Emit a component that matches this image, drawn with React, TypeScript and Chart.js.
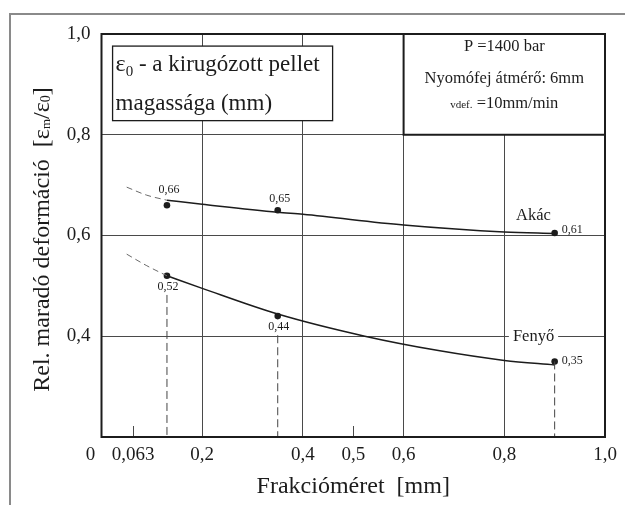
import { useEffect, useRef } from 'react';
import { Chart, registerables } from 'chart.js';

Chart.register(...registerables);

// ---- data ----
const xTickValues = [0, 0.063, 0.2, 0.4, 0.5, 0.6, 0.8, 1.0];
const xTickLabels = ['0', '0,063', '0,2', '0,4', '0,5', '0,6', '0,8', '1,0'];
const xGridFull = [0.2, 0.4, 0.6, 0.8];
const xShortTicks = [0.063, 0.5];
const yTickValues = [0.2, 0.4, 0.6, 0.8, 1.0];
const yTickLabels = ['', '0,4', '0,6', '0,8', '1,0'];

const fractions = [0.13, 0.35, 0.9];
const akacValues = [0.66, 0.65, 0.605];
const akacLabels = ['0,66', '0,65', '0,61'];
const fenyoValues = [0.52, 0.44, 0.35];
const fenyoLabels = ['0,52', '0,44', '0,35'];

const akacFitX = [0.13, 0.2, 0.35, 0.4, 0.6, 0.8, 0.9];
const akacFitY = [0.67, 0.662, 0.646, 0.642, 0.621, 0.607, 0.604];
const akacExtX = [0.05, 0.09, 0.13];
const akacExtY = [0.696, 0.68, 0.67];

const fenyoFitX = [0.13, 0.2, 0.35, 0.523, 0.672, 0.8, 0.9];
const fenyoFitY = [0.52, 0.495, 0.444, 0.4, 0.371, 0.352, 0.343];
const fenyoExtX = [0.05, 0.09, 0.13];
const fenyoExtY = [0.563, 0.54, 0.52];

const dropTops = [0.482, 0.402, 0.35];

const seriesNames = ['Akác', 'Fenyő'];
const xTitle = 'Frakcióméret  [mm]';
const noteLines = ['P =1400 bar', 'Nyomófej átmérő: 6mm'];

// ---- styles ----
const SERIF = '"Liberation Serif", "Times New Roman", serif';
const INK = '#1c1c1c';
const GRID = '#4a4a4a';
const TICK_SIZE = 19;
const TICK_PAD = 7;

type Part = { t: string; size: number; dy?: number };

function drawRich(ctx: CanvasRenderingContext2D, parts: Part[], x: number, y: number, align: 'left' | 'center' | 'right') {
  let total = 0;
  const widths = parts.map((p) => {
    ctx.font = `${p.size}px ${SERIF}`;
    const w = ctx.measureText(p.t).width;
    total += w;
    return w;
  });
  let cx = align === 'center' ? x - total / 2 : align === 'right' ? x - total : x;
  ctx.textAlign = 'left';
  ctx.textBaseline = 'alphabetic';
  parts.forEach((p, i) => {
    ctx.font = `${p.size}px ${SERIF}`;
    ctx.fillText(p.t, cx, y + (p.dy || 0));
    cx += widths[i];
  });
}

const xy = (xs: number[], ys: number[]) => xs.map((x, i) => ({ x, y: ys[i] }));

const decorPlugin = {
  id: 'decor',
  beforeDatasetsDraw(chart: any) {
    const { ctx, scales } = chart;
    const xs = scales.x;
    const ys = scales.y;
    const bottom = chart.chartArea.bottom;
    ctx.save();
    // short ticks
    ctx.strokeStyle = GRID;
    ctx.lineWidth = 1;
    xShortTicks.forEach((v) => {
      const px = Math.round(xs.getPixelForValue(v)) + 0.5;
      ctx.beginPath();
      ctx.moveTo(px, bottom);
      ctx.lineTo(px, bottom - 11);
      ctx.stroke();
    });
    // left text box
    const lx1 = xs.getPixelForValue(0.022);
    const lx2 = xs.getPixelForValue(0.459);
    const ly1 = ys.getPixelForValue(0.976);
    const ly2 = ys.getPixelForValue(0.828);
    ctx.fillStyle = '#fff';
    ctx.fillRect(lx1, ly1, lx2 - lx1, ly2 - ly1);
    ctx.strokeStyle = INK;
    ctx.lineWidth = 1.3;
    ctx.strokeRect(lx1, ly1, lx2 - lx1, ly2 - ly1);
    ctx.fillStyle = INK;
    drawRich(ctx, [
      { t: 'ε', size: 24 },
      { t: '0', size: 15, dy: 5 },
      { t: ' - a kirugózott pellet', size: 23 },
    ], lx1 + 3, ly1 + 25, 'left');
    drawRich(ctx, [{ t: 'magassága (mm)', size: 23 }], lx1 + 3, ly1 + 64, 'left');
    // right note box
    const rx1 = xs.getPixelForValue(0.6);
    const rx2 = xs.getPixelForValue(1.0);
    const ry1 = ys.getPixelForValue(1.0);
    const ry2 = ys.getPixelForValue(0.8);
    ctx.fillStyle = '#fff';
    ctx.fillRect(rx1, ry1, rx2 - rx1, ry2 - ry1);
    ctx.strokeStyle = INK;
    ctx.lineWidth = 2;
    ctx.strokeRect(rx1, ry1, rx2 - rx1, ry2 - ry1);
    ctx.fillStyle = INK;
    const rc = (rx1 + rx2) / 2;
    drawRich(ctx, [{ t: noteLines[0], size: 16.5 }], rc, ry1 + 17, 'center');
    drawRich(ctx, [{ t: noteLines[1], size: 16.5 }], rc, ry1 + 49, 'center');
    drawRich(ctx, [
      { t: 'vdef.', size: 11 },
      { t: ' =10mm/min', size: 16.5 },
    ], rc, ry1 + 74, 'center');
    ctx.restore();
  },
  afterDatasetsDraw(chart: any) {
    const { ctx, scales, chartArea } = chart;
    const xs = scales.x;
    const ys = scales.y;
    ctx.save();
    ctx.fillStyle = INK;
    ctx.font = `12px ${SERIF}`;
    // value labels
    fractions.forEach((f, i) => {
      const px = xs.getPixelForValue(f);
      const pa = ys.getPixelForValue(akacValues[i]);
      const pf = ys.getPixelForValue(fenyoValues[i]);
      if (i < 2) {
        ctx.textAlign = 'center';
        ctx.textBaseline = 'middle';
        ctx.fillText(akacLabels[i], px + 2, pa - (i === 0 ? 15 : 11));
        ctx.fillText(fenyoLabels[i], px + 1, pf + 11);
      } else {
        ctx.textAlign = 'left';
        ctx.textBaseline = 'middle';
        ctx.fillText(akacLabels[i], px + 7, pa - 3);
        ctx.fillText(fenyoLabels[i], px + 7, pf - 1);
      }
    });
    // series names
    ctx.font = `16.5px ${SERIF}`;
    ctx.textAlign = 'center';
    ctx.textBaseline = 'middle';
    const nx = xs.getPixelForValue(0.858);
    ctx.fillText(seriesNames[0], nx, ys.getPixelForValue(0.639));
    const fy = ys.getPixelForValue(0.4);
    const fw = ctx.measureText(seriesNames[1]).width;
    ctx.fillStyle = '#fff';
    ctx.fillRect(nx - fw / 2 - 4, fy - 3, fw + 8, 6);
    ctx.fillStyle = INK;
    ctx.fillText(seriesNames[1], nx, fy);
    // frame
    ctx.strokeStyle = INK;
    ctx.lineWidth = 2;
    ctx.strokeRect(chartArea.left, chartArea.top, chartArea.right - chartArea.left, chartArea.bottom - chartArea.top);
    ctx.restore();
  },
  afterDraw(chart: any) {
    const { ctx, scales, chartArea } = chart;
    const xs = scales.x;
    ctx.save();
    // outer gray frame
    ctx.strokeStyle = '#8a8a8a';
    ctx.lineWidth = 2;
    ctx.beginPath();
    ctx.moveTo(625, 14);
    ctx.lineTo(10, 14);
    ctx.lineTo(10, 505);
    ctx.stroke();
    ctx.fillStyle = INK;
    // origin label
    ctx.font = `${TICK_SIZE}px ${SERIF}`;
    ctx.textAlign = 'center';
    ctx.textBaseline = 'middle';
    ctx.fillText(xTickLabels[0], xs.getPixelForValue(0) - 11, chartArea.bottom + TICK_PAD + TICK_SIZE * 0.6);
    // x title
    drawRich(ctx, [{ t: xTitle, size: 24 }], (chartArea.left + chartArea.right) / 2, 493, 'center');
    // y title
    ctx.translate(41, (chartArea.top + chartArea.bottom) / 2 + 4);
    ctx.rotate(-Math.PI / 2);
    drawRich(ctx, [
      { t: 'Rel. maradó deformáció  [', size: 24 },
      { t: 'ε', size: 24 },
      { t: 'm', size: 13, dy: 1 },
      { t: '/', size: 24 },
      { t: 'ε', size: 24 },
      { t: '0', size: 14, dy: 1 },
      { t: ']', size: 24 },
    ], 0, 8, 'center');
    ctx.restore();
  },
};

export default function App() {
  const ref = useRef<HTMLCanvasElement>(null);
  useEffect(() => {
    if (!ref.current) return;
    const curve = (data: any[], dashed: boolean) => ({
      type: 'line' as const,
      data,
      borderColor: dashed ? '#6a6a6a' : INK,
      borderWidth: dashed ? 1 : 1.5,
      borderDash: dashed ? [6, 4] : [],
      pointRadius: 0,
      cubicInterpolationMode: 'monotone' as const,
      fill: false,
    });
    const drop = (i: number) => ({
      type: 'line' as const,
      data: [{ x: fractions[i], y: dropTops[i] }, { x: fractions[i], y: 0.2 }],
      borderColor: '#444',
      borderWidth: 1,
      borderDash: [8, 4],
      pointRadius: 0,
      fill: false,
    });
    const dots = (ys: number[]) => ({
      type: 'scatter' as const,
      data: fractions.map((x, i) => ({ x, y: ys[i] })),
      backgroundColor: INK,
      borderColor: INK,
      pointRadius: 3.3,
      borderWidth: 0,
    });
    const chart = new Chart(ref.current, {
      type: 'line',
      data: {
        datasets: [
          drop(0),
          drop(1),
          drop(2),
          curve(xy(akacExtX, akacExtY), true),
          curve(xy(fenyoExtX, fenyoExtY), true),
          curve(xy(akacFitX, akacFitY), false),
          curve(xy(fenyoFitX, fenyoFitY), false),
          dots(akacValues),
          dots(fenyoValues),
        ] as any,
      },
      options: {
        animation: false,
        responsive: false,
        layout: { padding: { left: 10, top: 34, right: 20, bottom: 0 } },
        plugins: { legend: { display: false }, tooltip: { enabled: false } },
        scales: {
          x: {
            type: 'linear',
            min: 0,
            max: 1,
            afterBuildTicks: (s: any) => {
              s.ticks = xTickValues.map((value) => ({ value }));
            },
            afterFit: (s: any) => {
              s.height = 68;
            },
            ticks: {
              color: INK,
              font: { family: SERIF, size: TICK_SIZE },
              padding: TICK_PAD,
              maxRotation: 0,
              autoSkip: false,
              callback: (_v: any, i: number) => (i === 0 ? '' : xTickLabels[i]),
            },
            grid: {
              drawTicks: false,
              lineWidth: 1,
              color: (c: any) => (xGridFull.includes(c.tick?.value) ? GRID : 'rgba(0,0,0,0)'),
            },
            border: { display: false },
          },
          y: {
            type: 'linear',
            min: 0.2,
            max: 1.0,
            afterBuildTicks: (s: any) => {
              s.ticks = yTickValues.map((value) => ({ value }));
            },
            afterFit: (s: any) => {
              s.width = 91.5;
            },
            ticks: {
              color: INK,
              font: { family: SERIF, size: TICK_SIZE },
              padding: 11,
              autoSkip: false,
              callback: (_v: any, i: number) => yTickLabels[i],
            },
            grid: {
              drawTicks: false,
              lineWidth: 1,
              color: (c: any) => {
                const v = c.tick?.value;
                return v > 0.3 && v < 0.9 ? GRID : 'rgba(0,0,0,0)';
              },
            },
            border: { display: false },
          },
        },
      },
      plugins: [decorPlugin],
    });
    return () => chart.destroy();
  }, []);
  return (
    <div style={{ position: 'absolute', left: 0, top: 0, width: 625, height: 505, background: '#fff' }}>
      <canvas ref={ref} width={625} height={505} />
    </div>
  );
}
